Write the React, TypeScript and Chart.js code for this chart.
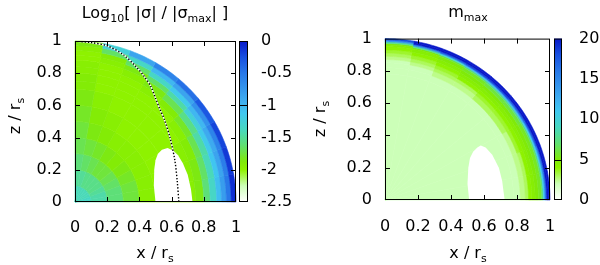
import React, { useEffect, useRef } from 'react';
import { Chart, registerables } from 'chart.js';

Chart.register(...registerables);

// ---------- data ----------
const axisTicks = [0, 0.2, 0.4, 0.6, 0.8, 1];
const sigmaCbTicks = [-2.5, -2, -1.5, -1, -0.5, 0];
const mmaxCbTicks = [0, 5, 10, 15, 20];
const sigmaCbMarks = [-1];
const mmaxCbMarks = [5];

// polar sectors (degrees from the equator)
const thetaEdgesDeg = [0, 10, 20, 30, 40, 50, 60, 70, 80, 90];

// log10 |sigma| / |sigma_max| : radial bins
const sigmaREdges = [0, 0.1, 0.2, 0.3, 0.4, 0.5, 0.6, 0.7, 0.75, 0.8, 0.84, 0.88, 0.91, 0.94, 0.97, 1.0];
const sigmaTheta05 = [-1.35, -1.45, -1.6, -1.75, -1.95, -2.0, -2.0, -1.95, -1.85, -1.6, -1.35, -1.05, -0.8, -0.5, -0.1];
const sigmaTheta15 = [-1.35, -1.45, -1.6, -1.75, -1.95, -2.0, -2.0, -1.95, -1.85, -1.65, -1.4, -1.1, -0.85, -0.55, -0.15];
const sigmaTheta25 = [-1.4, -1.5, -1.65, -1.8, -1.95, -2.0, -2.0, -1.95, -1.9, -1.7, -1.45, -1.15, -0.9, -0.6, -0.2];
const sigmaTheta35 = [-1.4, -1.55, -1.7, -1.85, -1.95, -2.0, -2.0, -2.0, -1.95, -1.8, -1.55, -1.25, -1.0, -0.7, -0.3];
const sigmaTheta45 = [-1.4, -1.55, -1.75, -1.9, -1.95, -2.0, -2.0, -2.0, -2.0, -1.9, -1.7, -1.45, -1.15, -0.85, -0.45];
const sigmaTheta55 = [-1.4, -1.55, -1.75, -1.85, -1.95, -2.0, -2.0, -2.0, -2.0, -1.95, -1.85, -1.65, -1.35, -1.0, -0.6];
const sigmaTheta65 = [-1.4, -1.55, -1.7, -1.8, -1.9, -1.95, -2.0, -2.0, -2.0, -2.0, -1.95, -1.85, -1.65, -1.35, -0.85];
const sigmaTheta75 = [-1.4, -1.5, -1.65, -1.75, -1.85, -1.9, -1.95, -2.0, -2.0, -2.0, -2.0, -1.95, -1.9, -1.65, -1.25];
const sigmaTheta85 = [-1.4, -1.5, -1.6, -1.7, -1.75, -1.8, -1.85, -1.9, -1.9, -1.95, -1.95, -2.0, -2.0, -1.95, -1.85];

// m_max : radial bins
const mmaxREdges = [0, 0.78, 0.82, 0.85, 0.87, 0.89, 0.91, 0.93, 0.95, 0.96, 0.97, 0.98, 0.99, 1.0];
const mmaxTheta05 = [2, 2, 2.5, 3, 4, 4.5, 5, 5.5, 7, 11, 16, 20, 20];
const mmaxTheta15 = [2, 2, 2.5, 3, 4, 4.5, 5, 5.5, 7, 11, 16, 20, 20];
const mmaxTheta25 = [2, 2, 2.5, 3.5, 4, 4.5, 5, 5.5, 7, 11, 17, 20, 20];
const mmaxTheta35 = [2, 2, 3, 3.5, 4, 4.5, 5, 6, 7.5, 12, 17, 20, 20];
const mmaxTheta45 = [2, 2, 3, 3.5, 4, 4.5, 5, 6, 7.5, 12, 18, 20, 20];
const mmaxTheta55 = [2, 2, 2.5, 3, 4, 4.5, 5, 5.5, 7, 12, 18, 20, 20];
const mmaxTheta65 = [2, 2, 2.5, 3, 3.5, 4, 4.5, 5, 6, 10, 17, 20, 20];
const mmaxTheta75 = [2, 2, 2, 2.5, 3, 3.5, 4, 4.5, 5, 8, 15, 20, 20];
const mmaxTheta85 = [2, 2, 2, 2, 2.5, 3, 3.5, 4, 4.5, 5, 8, 14, 18];

// excluded (white) region
const sigmaHoleX = [0.5, 0.49, 0.492, 0.5, 0.515, 0.54, 0.575, 0.61, 0.64, 0.67, 0.7, 0.72, 0.73];
const sigmaHoleZ = [0, 0.1, 0.2, 0.26, 0.3, 0.325, 0.335, 0.32, 0.29, 0.24, 0.17, 0.08, 0];
const mmaxHoleX = [0.51, 0.5, 0.505, 0.515, 0.535, 0.56, 0.58, 0.61, 0.65, 0.69, 0.71, 0.725];
const mmaxHoleZ = [0, 0.1, 0.2, 0.26, 0.3, 0.325, 0.337, 0.325, 0.28, 0.2, 0.12, 0];

// dotted curve (left panel)
const curveX = [0, 0.1, 0.2, 0.3, 0.38, 0.43, 0.47, 0.5, 0.53, 0.556, 0.59, 0.62, 0.635, 0.645];
const curveZ = [1.0, 0.99, 0.97, 0.915, 0.84, 0.78, 0.72, 0.645, 0.57, 0.51, 0.4, 0.26, 0.13, 0];

// colour palette
const paletteFrac = [0, 0.05, 0.1, 0.2, 0.25, 0.35, 0.45, 0.55, 0.62, 0.8, 0.9, 1];
const paletteColor = ['#ffffff', '#e6ffdc', '#ccffb8', '#8ef200', '#80ea08', '#60e070', '#48d8c0', '#40c8f0', '#40b0f0', '#2878e8', '#1850e0', '#0818c8'];

// ---------- helpers ----------
const FONT = '"DejaVu Sans", sans-serif';

function hexToRgb(h: string) {
  return [parseInt(h.slice(1, 3), 16), parseInt(h.slice(3, 5), 16), parseInt(h.slice(5, 7), 16)];
}
function paletteColorAt(f: number) {
  f = Math.max(0, Math.min(1, f));
  for (let k = 0; k < paletteFrac.length - 1; k++) {
    if (f <= paletteFrac[k + 1]) {
      const t = (f - paletteFrac[k]) / (paletteFrac[k + 1] - paletteFrac[k]);
      const a = hexToRgb(paletteColor[k]);
      const b = hexToRgb(paletteColor[k + 1]);
      return `rgb(${Math.round(a[0] + (b[0] - a[0]) * t)},${Math.round(a[1] + (b[1] - a[1]) * t)},${Math.round(a[2] + (b[2] - a[2]) * t)})`;
    }
  }
  return paletteColor[paletteColor.length - 1];
}

type Part = { t: string; sub?: boolean };
function drawRich(ctx: CanvasRenderingContext2D, parts: Part[], x: number, y: number, size: number) {
  const subSize = Math.round(size * 0.7);
  let w = 0;
  for (const p of parts) {
    ctx.font = `${p.sub ? subSize : size}px ${FONT}`;
    w += ctx.measureText(p.t).width;
  }
  let cx = x - w / 2;
  ctx.textAlign = 'left';
  ctx.textBaseline = 'alphabetic';
  ctx.fillStyle = '#000';
  for (const p of parts) {
    ctx.font = `${p.sub ? subSize : size}px ${FONT}`;
    ctx.fillText(p.t, cx, p.sub ? y + size * 0.28 : y);
    cx += ctx.measureText(p.t).width;
  }
}

type PanelSpec = {
  rEdges: number[];
  rows: number[][];
  cbMin: number;
  cbMax: number;
  cbMarks: number[];
  cbLeft: number;
  cbWidth: number;
  holeX: number[];
  holeZ: number[];
  title: Part[];
  titleX: number;
  titleY: number;
  xTitleX: number;
  xTitleY: number;
  yTitleX: number;
  yTitleY: number;
};

function makePlugin(spec: PanelSpec) {
  return {
    id: 'panel',
    beforeDatasetsDraw(chart: any) {
      const ctx: CanvasRenderingContext2D = chart.ctx;
      const xs = chart.scales.x;
      const ys = chart.scales.y;
      ctx.save();
      for (let i = 0; i < spec.rows.length; i++) {
        const t0 = (thetaEdgesDeg[i] * Math.PI) / 180;
        const t1 = (thetaEdgesDeg[i + 1] * Math.PI) / 180;
        for (let j = 0; j < spec.rows[i].length; j++) {
          const r0 = spec.rEdges[j];
          const r1 = spec.rEdges[j + 1];
          const v = spec.rows[i][j];
          const col = paletteColorAt((v - spec.cbMin) / (spec.cbMax - spec.cbMin));
          const n = 12;
          ctx.beginPath();
          for (let k = 0; k <= n; k++) {
            const t = t0 + ((t1 - t0) * k) / n;
            const px = xs.getPixelForValue(r1 * Math.cos(t));
            const py = ys.getPixelForValue(r1 * Math.sin(t));
            if (k === 0) ctx.moveTo(px, py);
            else ctx.lineTo(px, py);
          }
          for (let k = n; k >= 0; k--) {
            const t = t0 + ((t1 - t0) * k) / n;
            ctx.lineTo(xs.getPixelForValue(r0 * Math.cos(t)), ys.getPixelForValue(r0 * Math.sin(t)));
          }
          ctx.closePath();
          ctx.fillStyle = col;
          ctx.strokeStyle = col;
          ctx.lineWidth = 0.6;
          ctx.fill();
          ctx.stroke();
        }
      }
      // hole
      ctx.beginPath();
      spec.holeX.forEach((hx, k) => {
        const px = xs.getPixelForValue(hx);
        const py = ys.getPixelForValue(spec.holeZ[k]);
        if (k === 0) ctx.moveTo(px, py);
        else ctx.lineTo(px, py);
      });
      ctx.closePath();
      ctx.fillStyle = '#ffffff';
      ctx.fill();
      ctx.restore();
    },
    afterDraw(chart: any) {
      const ctx: CanvasRenderingContext2D = chart.ctx;
      const xs = chart.scales.x;
      const ys = chart.scales.y;
      const cb = chart.scales.cb;
      const a = chart.chartArea;
      ctx.save();
      // plot border
      ctx.strokeStyle = '#000';
      ctx.lineWidth = 1;
      ctx.strokeRect(a.left + 0.5, a.top + 0.5, a.right - a.left - 1, a.bottom - a.top - 1);
      // inward ticks
      const L = 5;
      ctx.beginPath();
      for (const v of axisTicks) {
        if (v === 0 || v === 1) continue;
        const px = Math.round(xs.getPixelForValue(v)) + 0.5;
        ctx.moveTo(px, a.bottom);
        ctx.lineTo(px, a.bottom - L);
        ctx.moveTo(px, a.top);
        ctx.lineTo(px, a.top + L);
        const py = Math.round(ys.getPixelForValue(v)) + 0.5;
        ctx.moveTo(a.left, py);
        ctx.lineTo(a.left + L, py);
        ctx.moveTo(a.right, py);
        ctx.lineTo(a.right - L, py);
      }
      ctx.stroke();
      // colour box
      const yMin = cb.getPixelForValue(spec.cbMin);
      const yMax = cb.getPixelForValue(spec.cbMax);
      const g = ctx.createLinearGradient(0, yMin, 0, yMax);
      paletteFrac.forEach((f, k) => g.addColorStop(f, paletteColor[k]));
      ctx.fillStyle = g;
      ctx.fillRect(spec.cbLeft, yMax, spec.cbWidth, yMin - yMax);
      ctx.strokeRect(spec.cbLeft + 0.5, yMax + 0.5, spec.cbWidth - 1, yMin - yMax - 1);
      ctx.beginPath();
      for (const m of spec.cbMarks) {
        const py = Math.round(cb.getPixelForValue(m)) + 0.5;
        ctx.moveTo(spec.cbLeft, py);
        ctx.lineTo(spec.cbLeft + spec.cbWidth, py);
      }
      ctx.stroke();
      // titles
      drawRich(ctx, spec.title, spec.titleX, spec.titleY, 16);
      drawRich(ctx, [{ t: 'x / r' }, { t: 's', sub: true }], spec.xTitleX, spec.xTitleY, 16);
      ctx.translate(spec.yTitleX, spec.yTitleY);
      ctx.rotate(-Math.PI / 2);
      drawRich(ctx, [{ t: 'z / r' }, { t: 's', sub: true }], 0, 0, 16);
      ctx.restore();
    },
  };
}

function fmtAxis(v: number) {
  if (v === 0) return '0';
  if (v === 1) return '1';
  return v.toFixed(1);
}
function fmtCb(v: number) {
  if (Number.isInteger(v)) return String(v);
  return v.toFixed(1);
}

function buildConfig(opts: {
  spec: PanelSpec;
  padTop: number;
  yWidth: number;
  xHeight: number;
  cbWidth: number;
  yPad: number;
  xPad: number;
  cbPad: number;
  cbTicks: number[];
  datasets: any[];
}) {
  const tickFont = { family: FONT, size: 16 };
  const common = {
    type: 'linear',
    grid: { display: false, drawTicks: false },
    border: { display: false },
  };
  return {
    type: 'scatter',
    data: { datasets: opts.datasets },
    options: {
      responsive: false,
      animation: false,
      events: [],
      layout: { padding: { top: opts.padTop, left: 0, right: 0, bottom: 0 } },
      plugins: { legend: { display: false }, tooltip: { enabled: false }, title: { display: false } },
      scales: {
        x: {
          ...common,
          position: 'bottom',
          min: 0,
          max: 1,
          afterFit: (s: any) => {
            s.height = opts.xHeight;
          },
          afterBuildTicks: (s: any) => {
            s.ticks = axisTicks.map((v) => ({ value: v }));
          },
          ticks: { padding: opts.xPad, color: '#000', font: tickFont, maxRotation: 0, autoSkip: false, callback: (v: number) => fmtAxis(v) },
        },
        y: {
          ...common,
          position: 'left',
          min: 0,
          max: 1,
          afterFit: (s: any) => {
            s.width = opts.yWidth;
          },
          afterBuildTicks: (s: any) => {
            s.ticks = axisTicks.map((v) => ({ value: v }));
          },
          ticks: { padding: opts.yPad, color: '#000', font: tickFont, autoSkip: false, callback: (v: number) => fmtAxis(v) },
        },
        cb: {
          ...common,
          position: 'right',
          min: opts.spec.cbMin,
          max: opts.spec.cbMax,
          afterFit: (s: any) => {
            s.width = opts.cbWidth;
          },
          afterBuildTicks: (s: any) => {
            s.ticks = opts.cbTicks.map((v) => ({ value: v }));
          },
          ticks: { padding: opts.cbPad, color: '#000', font: tickFont, autoSkip: false, callback: (v: number) => fmtCb(v) },
        },
      },
    },
    plugins: [makePlugin(opts.spec)],
  };
}

const curvePoints = curveX.map((x, i) => ({ x, y: curveZ[i] }));

function Panel({ left, config }: { left: number; config: () => any }) {
  const ref = useRef<HTMLCanvasElement>(null);
  useEffect(() => {
    const chart = new Chart(ref.current as HTMLCanvasElement, config() as any);
    return () => chart.destroy();
  }, []);
  return (
    <canvas
      ref={ref}
      width={300}
      height={265}
      style={{ position: 'absolute', left, top: 0, width: 300, height: 265 }}
    />
  );
}

export default function App() {
  const leftConfig = () =>
    buildConfig({
      spec: {
        rEdges: sigmaREdges,
        rows: [sigmaTheta05, sigmaTheta15, sigmaTheta25, sigmaTheta35, sigmaTheta45, sigmaTheta55, sigmaTheta65, sigmaTheta75, sigmaTheta85],
        cbMin: -2.5,
        cbMax: 0,
        cbMarks: sigmaCbMarks,
        cbLeft: 239,
        cbWidth: 9,
        holeX: sigmaHoleX,
        holeZ: sigmaHoleZ,
        title: [{ t: 'Log' }, { t: '10', sub: true }, { t: '[ |σ| / |σ' }, { t: 'max', sub: true }, { t: '| ]' }],
        titleX: 155,
        titleY: 18,
        xTitleX: 155,
        xTitleY: 258,
        yTitleX: 20,
        yTitleY: 116,
      },
      padTop: 41,
      yWidth: 75,
      xHeight: 63,
      cbWidth: 64,
      yPad: 13,
      xPad: 16,
      cbPad: 25,
      cbTicks: sigmaCbTicks,
      datasets: [
        { type: 'line', order: 0, data: curvePoints, borderColor: '#000000', borderWidth: 1.4, borderDash: [1.4, 1.8], pointRadius: 0, tension: 0.3, fill: false },
        { type: 'line', order: 1, data: curvePoints, borderColor: '#ffffff', borderWidth: 1.4, pointRadius: 0, tension: 0.3, fill: false },
      ],
    });
  const rightConfig = () =>
    buildConfig({
      spec: {
        rEdges: mmaxREdges,
        rows: [mmaxTheta05, mmaxTheta15, mmaxTheta25, mmaxTheta35, mmaxTheta45, mmaxTheta55, mmaxTheta65, mmaxTheta75, mmaxTheta85],
        cbMin: 0,
        cbMax: 20,
        cbMarks: mmaxCbMarks,
        cbLeft: 254,
        cbWidth: 8,
        holeX: mmaxHoleX,
        holeZ: mmaxHoleZ,
        title: [{ t: 'm' }, { t: 'max', sub: true }],
        titleX: 168,
        titleY: 17,
        xTitleX: 168,
        xTitleY: 258,
        yTitleX: 25,
        yTitleY: 119,
      },
      padTop: 35,
      yWidth: 85,
      xHeight: 65,
      cbWidth: 50,
      yPad: 13,
      xPad: 17,
      cbPad: 29,
      cbTicks: mmaxCbTicks,
      datasets: [],
    });
  return (
    <div style={{ position: 'absolute', left: 0, top: 0, width: 600, height: 265, background: '#fff' }}>
      <Panel left={0} config={leftConfig} />
      <Panel left={300} config={rightConfig} />
    </div>
  );
}
